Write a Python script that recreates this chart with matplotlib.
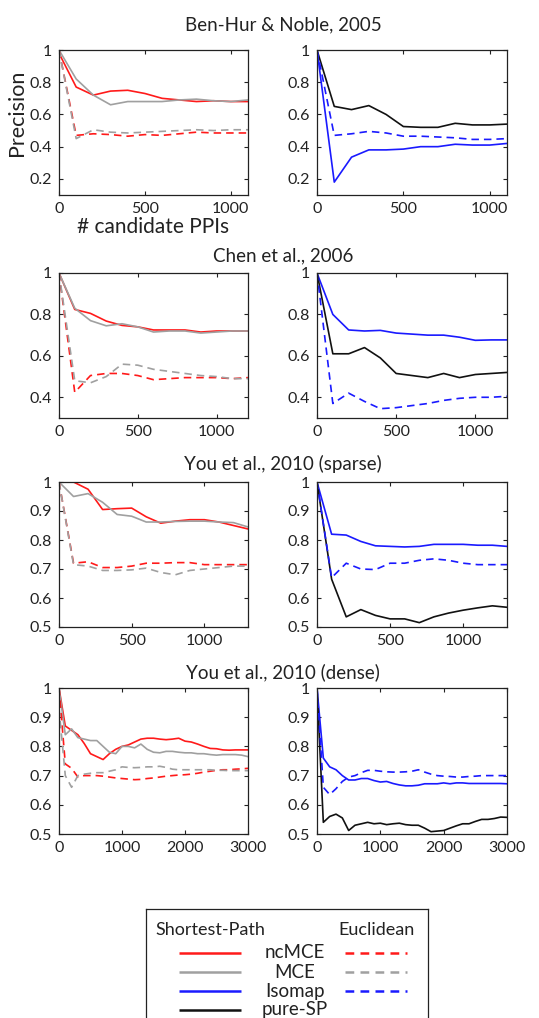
import numpy as np
import matplotlib
matplotlib.use("Agg")
from matplotlib import pyplot as plt
from matplotlib.ticker import FuncFormatter

plt.rcParams['font.family'] = ['Lato', 'DejaVu Sans']

# ---- data (precision vs # candidate PPIs) ----
x_bh = [0, 100, 200, 300, 400, 500, 600, 700, 800, 900, 1000, 1100]
bh_ncmce_sp = [0.98, 0.77, 0.72, 0.745, 0.75, 0.73, 0.70, 0.69, 0.68, 0.685, 0.68, 0.68]
bh_mce_sp = [1.0, 0.82, 0.72, 0.66, 0.68, 0.68, 0.68, 0.69, 0.695, 0.685, 0.68, 0.69]
bh_ncmce_eu = [1.0, 0.47, 0.48, 0.475, 0.465, 0.475, 0.47, 0.48, 0.49, 0.485, 0.485, 0.485]
bh_mce_eu = [1.0, 0.45, 0.505, 0.49, 0.485, 0.49, 0.495, 0.50, 0.505, 0.50, 0.505, 0.505]
bh_pure_sp = [1.0, 0.65, 0.63, 0.655, 0.60, 0.525, 0.52, 0.52, 0.545, 0.535, 0.535, 0.54]
bh_iso_sp = [1.0, 0.18, 0.335, 0.38, 0.38, 0.385, 0.40, 0.40, 0.415, 0.41, 0.41, 0.42]
bh_iso_eu = [1.0, 0.47, 0.48, 0.495, 0.485, 0.465, 0.465, 0.46, 0.455, 0.445, 0.445, 0.45]

x_chen = [0, 100, 200, 300, 400, 500, 600, 700, 800, 900, 1000, 1100, 1200]
chen_ncmce_sp = [1.0, 0.824, 0.805, 0.768, 0.747, 0.74, 0.725, 0.725, 0.725, 0.715, 0.72, 0.72, 0.72]
chen_mce_sp = [1.0, 0.83, 0.77, 0.745, 0.755, 0.74, 0.715, 0.72, 0.72, 0.71, 0.715, 0.72, 0.72]
chen_ncmce_eu = [1.0, 0.424, 0.505, 0.515, 0.515, 0.505, 0.485, 0.49, 0.495, 0.495, 0.495, 0.49, 0.495]
chen_mce_eu = [1.0, 0.48, 0.47, 0.50, 0.56, 0.555, 0.535, 0.525, 0.515, 0.505, 0.50, 0.49, 0.49]
chen_iso_sp = [1.0, 0.80, 0.725, 0.72, 0.723, 0.71, 0.705, 0.70, 0.70, 0.69, 0.675, 0.677, 0.677]
chen_pure_sp = [1.0, 0.61, 0.61, 0.64, 0.59, 0.515, 0.505, 0.495, 0.515, 0.495, 0.51, 0.515, 0.52]
chen_iso_eu = [1.0, 0.37, 0.42, 0.38, 0.345, 0.35, 0.36, 0.37, 0.385, 0.395, 0.40, 0.40, 0.405]

x_sparse = [0, 100, 200, 300, 400, 500, 600, 700, 800, 900, 1000, 1100, 1200, 1300]
sp_ncmce_sp = [1.0, 1.0, 0.975, 0.905, 0.908, 0.91, 0.88, 0.858, 0.865, 0.87, 0.87, 0.862, 0.85, 0.838]
sp_mce_sp = [1.0, 0.95, 0.96, 0.93, 0.888, 0.882, 0.862, 0.862, 0.864, 0.865, 0.865, 0.862, 0.86, 0.845]
sp_ncmce_eu = [1.0, 0.72, 0.725, 0.705, 0.705, 0.71, 0.72, 0.72, 0.722, 0.722, 0.715, 0.715, 0.715, 0.715]
sp_mce_eu = [1.0, 0.715, 0.71, 0.695, 0.695, 0.697, 0.703, 0.688, 0.68, 0.695, 0.70, 0.705, 0.71, 0.71]
sp_iso_sp = [1.0, 0.82, 0.817, 0.795, 0.78, 0.778, 0.776, 0.778, 0.785, 0.785, 0.785, 0.782, 0.782, 0.778]
sp_iso_eu = [1.0, 0.67, 0.72, 0.70, 0.698, 0.72, 0.72, 0.73, 0.735, 0.73, 0.72, 0.715, 0.715, 0.715]
sp_pure_sp = [1.0, 0.665, 0.535, 0.56, 0.54, 0.528, 0.528, 0.515, 0.535, 0.548, 0.558, 0.566, 0.573, 0.568]

x_dense = list(range(0, 3001, 100))
de_ncmce_sp = [1.0, 0.87, 0.855, 0.84, 0.81, 0.775, 0.765, 0.755, 0.775, 0.79, 0.80, 0.805, 0.815, 0.825,
               0.828, 0.828, 0.825, 0.823, 0.825, 0.828, 0.818, 0.815, 0.808, 0.80, 0.793, 0.792, 0.788,
               0.787, 0.788, 0.788, 0.788]
de_mce_sp = [1.0, 0.84, 0.86, 0.83, 0.825, 0.82, 0.82, 0.80, 0.78, 0.775, 0.80, 0.80, 0.795, 0.808,
             0.79, 0.78, 0.778, 0.783, 0.783, 0.78, 0.778, 0.778, 0.775, 0.775, 0.772, 0.77, 0.772,
             0.772, 0.772, 0.77, 0.765]
de_ncmce_eu = [1.0, 0.74, 0.725, 0.695, 0.70, 0.70, 0.70, 0.698, 0.695, 0.692, 0.69, 0.688, 0.686, 0.687,
               0.69, 0.692, 0.695, 0.698, 0.70, 0.702, 0.703, 0.705, 0.708, 0.712, 0.715, 0.718, 0.72,
               0.72, 0.722, 0.723, 0.725]
de_mce_eu = [0.93, 0.70, 0.66, 0.70, 0.705, 0.708, 0.71, 0.71, 0.715, 0.72, 0.73, 0.728, 0.727, 0.728,
             0.73, 0.73, 0.732, 0.728, 0.722, 0.72, 0.72, 0.72, 0.72, 0.72, 0.72, 0.718, 0.718,
             0.717, 0.717, 0.717, 0.717]
de_iso_sp = [1.0, 0.76, 0.73, 0.72, 0.70, 0.685, 0.685, 0.69, 0.69, 0.683, 0.678, 0.68, 0.673, 0.668,
             0.665, 0.665, 0.667, 0.672, 0.672, 0.672, 0.675, 0.672, 0.675, 0.675, 0.673, 0.673, 0.673,
             0.673, 0.673, 0.673, 0.672]
de_iso_eu = [1.0, 0.66, 0.635, 0.655, 0.68, 0.695, 0.70, 0.71, 0.718, 0.718, 0.715, 0.713, 0.712, 0.712,
             0.713, 0.715, 0.72, 0.712, 0.705, 0.70, 0.698, 0.697, 0.695, 0.695, 0.697, 0.698, 0.70,
             0.70, 0.70, 0.70, 0.70]
de_pure_sp = [1.0, 0.54, 0.56, 0.568, 0.555, 0.512, 0.53, 0.535, 0.54, 0.535, 0.537, 0.532, 0.535, 0.537,
              0.532, 0.53, 0.53, 0.52, 0.508, 0.51, 0.512, 0.52, 0.528, 0.535, 0.535, 0.543, 0.55,
              0.55, 0.553, 0.558, 0.557]

titles = ["Ben-Hur & Noble, 2005", "Chen et al., 2006", "You et al., 2010 (sparse)", "You et al., 2010 (dense)"]
xlims = [1100, 1200, 1300, 3000]
ylims = [(0.1, 1.0), (0.3, 1.0), (0.5, 1.0), (0.5, 1.0)]
yticks = [[0.2, 0.4, 0.6, 0.8, 1], [0.4, 0.6, 0.8, 1], [0.5, 0.6, 0.7, 0.8, 0.9, 1], [0.5, 0.6, 0.7, 0.8, 0.9, 1]]
xticks = [[0, 500, 1000], [0, 500, 1000], [0, 500, 1000], [0, 1000, 2000, 3000]]

rows = [
    (x_bh, [bh_ncmce_sp, bh_mce_sp, bh_ncmce_eu, bh_mce_eu], [bh_pure_sp, bh_iso_sp, bh_iso_eu]),
    (x_chen, [chen_ncmce_sp, chen_mce_sp, chen_ncmce_eu, chen_mce_eu], [chen_iso_sp, chen_pure_sp, chen_iso_eu]),
    (x_sparse, [sp_ncmce_sp, sp_mce_sp, sp_ncmce_eu, sp_mce_eu], [sp_iso_sp, sp_pure_sp, sp_iso_eu]),
    (x_dense, [de_ncmce_sp, de_mce_sp, de_ncmce_eu, de_mce_eu], [de_iso_sp, de_pure_sp, de_iso_eu]),
]

RED, GRAY, BLUE, BLACK = '#ff1a1a', '#a0a0a0', '#1a1aff', '#111111'
left_styles = [(RED, '-'), (GRAY, '-'), (RED, '--'), (GRAY, '--')]
right_styles = [[(BLACK, '-'), (BLUE, '-'), (BLUE, '--')]] + [[(BLUE, '-'), (BLACK, '-'), (BLUE, '--')]] * 3

W, H = 539, 1018
fig = plt.figure(figsize=(W / 100, H / 100), dpi=100)

# axes boxes in pixels (top, bottom)
row_px = [(50, 195), (273, 418), (482, 627), (688, 834)]
col_px = [(59, 248), (317, 507)]
title_px = [25, 256, 464, 672]

fmt = FuncFormatter(lambda v, p: '{:g}'.format(v))

for r in range(4):
    xs, lseries, rseries = rows[r]
    top, bot = row_px[r]
    axs = []
    for c in range(2):
        x0, x1 = col_px[c]
        ax = fig.add_axes([x0 / W, 1 - bot / H, (x1 - x0) / W, (bot - top) / H])
        ax.set_xlim(0, xlims[r])
        ax.set_ylim(*ylims[r])
        ax.set_xticks(xticks[r])
        ax.set_yticks(yticks[r])
        ax.yaxis.set_major_formatter(fmt)
        ax.tick_params(direction='in', length=3, width=0.8, top=True, right=True,
                       labelsize=11.5, colors='#222222', pad=5)
        for s in ax.spines.values():
            s.set_color('#222222')
            s.set_linewidth(0.9)
        axs.append(ax)
    for ys, (col, ls) in zip(lseries, left_styles):
        axs[0].plot(xs, ys, color=col, linestyle=ls, linewidth=1.2,
                    dashes=(4.5, 3) if ls == '--' else (None, None))
    for ys, (col, ls) in zip(rseries, right_styles[r]):
        axs[1].plot(xs, ys, color=col, linestyle=ls, linewidth=1.2,
                    dashes=(4.5, 3) if ls == '--' else (None, None))
    fig.text(283 / W, 1 - title_px[r] / H, titles[r], ha='center', va='center',
             fontsize=13.5, color='#222222')
    if r == 0:
        axs[0].set_ylabel('Precision', fontsize=15.5, color='#222222')
        axs[0].yaxis.set_label_coords(-0.17, 0.57)
        axs[0].set_xlabel('# candidate PPIs', fontsize=15, color='#222222')
        axs[0].xaxis.set_label_coords(0.5, -0.15)

# ---- custom legend box ----
leg_names = ['ncMCE', 'MCE', 'Isomap', 'pure-SP']
leg_colors = [RED, GRAY, BLUE, BLACK]
leg_eu = [True, True, True, False]

lx0, lx1, ly0 = 146, 428, 909
lg = fig.add_axes([lx0 / W, 0, (lx1 - lx0) / W, (H - ly0) / H])
lg.set_xlim(lx0, lx1)
lg.set_ylim(H, ly0)
lg.set_xticks([])
lg.set_yticks([])
lg.spines['bottom'].set_visible(False)
for s in ['top', 'left', 'right']:
    lg.spines[s].set_color('#222222')
    lg.spines[s].set_linewidth(0.9)
lg.text(210, 930, 'Shortest-Path', ha='center', va='center', fontsize=13, color='#222222')
lg.text(376, 930, 'Euclidean', ha='center', va='center', fontsize=13, color='#222222')
for i, (name, col, eu) in enumerate(zip(leg_names, leg_colors, leg_eu)):
    yy = 953 + i * 19
    lg.plot([179, 241], [yy, yy], color=col, linewidth=1.8, solid_capstyle='butt')
    lg.text(295, yy, name, ha='center', va='center', fontsize=13.5, color='#222222')
    if eu:
        lg.plot([345, 407], [yy, yy], color=col, linewidth=1.8, dashes=(3.5, 2.5))

fig.savefig('out.png', dpi=100)
